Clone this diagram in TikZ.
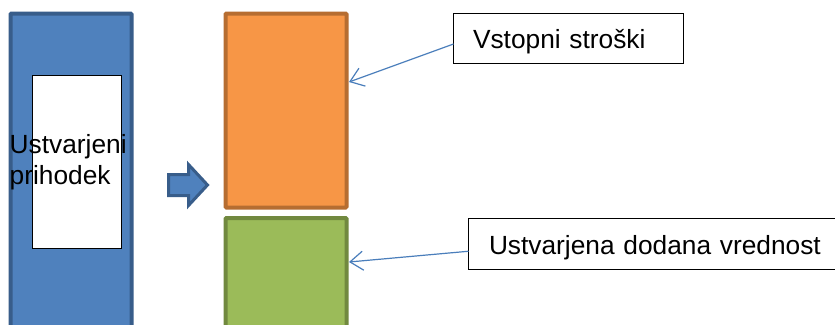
\documentclass[tikz,border=0pt]{standalone}
\usepackage{fontspec}
\setmainfont{Liberation Sans}
\usetikzlibrary{arrows.meta}
\definecolor{bfill}{HTML}{4F81BD}
\definecolor{bline}{HTML}{385D8A}
\definecolor{ofill}{HTML}{F79646}
\definecolor{oline}{HTML}{B66D31}
\definecolor{gfill}{HTML}{9BBB59}
\definecolor{gline}{HTML}{71893F}
\definecolor{aline}{HTML}{4A7EBB}
\tikzset{
  bar/.style={draw, line width=4pt, rounded corners=1pt, inner sep=0pt, outer sep=0pt, anchor=north west},
  label box/.style={draw=black, line width=0.9pt, fill=white, inner sep=0pt, outer sep=0pt, anchor=north west,
    font=\fontsize{26.3}{31}\selectfont, text height=21pt, text depth=0pt, align=left},
  callout/.style={draw=aline, line width=1.2pt, -{Straight Barb[length=13pt, width=19pt, line width=1.2pt]}},
}
\begin{document}
\begin{tikzpicture}[x=1pt, y=-1pt]
\path[use as bounding box, clip] (0,0) rectangle (835,324);
\fill[white] (0,0) rectangle (835,324);
% left bar
\node[bar, fill=bfill, draw=bline, minimum width=121pt, minimum height=330pt] (rev) at (10.5,13.5) {};
\node[draw=black, line width=0.8pt, fill=white, inner sep=0pt, outer sep=0pt, anchor=north west,
  minimum width=89pt, minimum height=173.5pt] (inner) at (32,75.3) {};
\node[anchor=west, inner sep=0pt, align=left, font=\fontsize{26.3}{31}\selectfont] (revtext) at (9.5,161.8) {Ustvarjeni\\prihodek};
% block arrow
\draw[fill=bfill, draw=bline, line width=3pt, line join=miter]
  (168.5,174.5) -- (188.5,174.5) -- (188.5,164.5) -- (207.5,185) -- (188.5,205.5) -- (188.5,195.5) -- (168.5,195.5) -- cycle;
% right bars
\node[bar, fill=ofill, draw=oline, minimum width=121pt, minimum height=194pt] (cost) at (225.5,13.5) {};
\node[bar, fill=gfill, draw=gline, minimum width=121pt, minimum height=130pt] (value) at (225.5,218) {};
% labels
\node[label box, minimum width=230pt, minimum height=49.5pt, text width=191pt] (lcost) at (453.5,13.5) {\hspace*{0pt}Vstopni stroški};
\node[label box, minimum width=400pt, minimum height=50.5pt, text width=359pt] (lvalue) at (468.5,218.5) {Ustvarjena dodana vrednost};
% callouts
\coordinate (tcost) at (349,82);
\coordinate (tvalue) at (349,262);
\draw[callout] ([yshift=-5.75pt]lcost.west) -- (tcost);
\draw[callout] ([yshift=-7.5pt]lvalue.west) -- (tvalue);
\end{tikzpicture}
\end{document}
